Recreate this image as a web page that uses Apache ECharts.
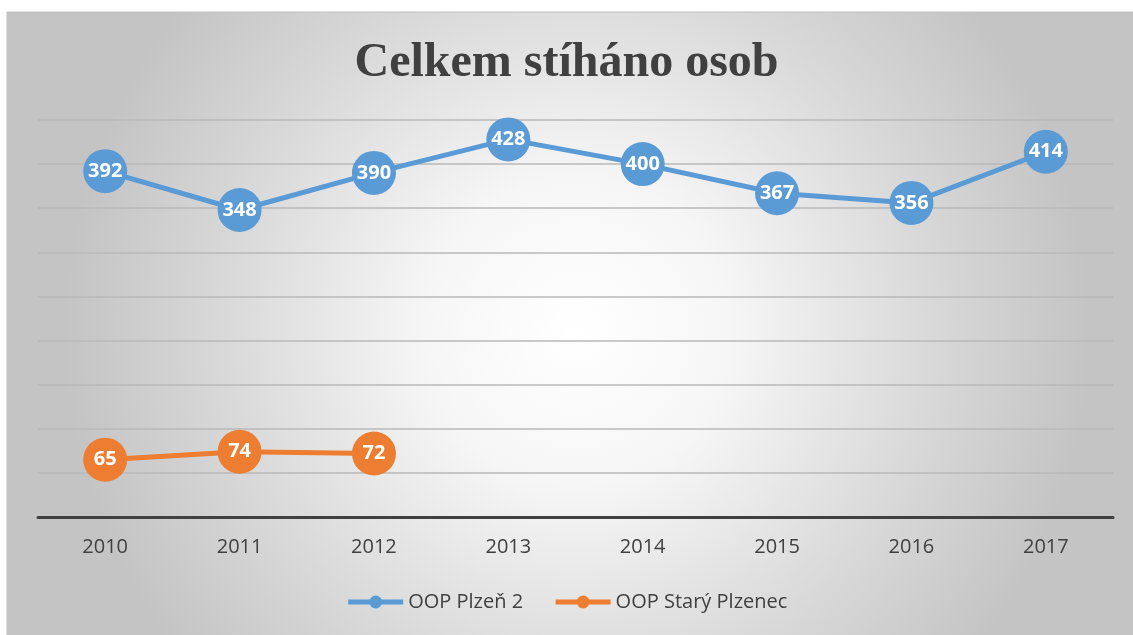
<!DOCTYPE html>
<html><head><meta charset="utf-8">
<script src="https://cdn.jsdelivr.net/npm/echarts@6/dist/echarts.min.js"></script>
<style>html,body{margin:0;padding:0;background:#fff}#c{width:1133px;height:635px}</style>
</head><body><div id="c"></div>
<script>
const categories = ['2010','2011','2012','2013','2014','2015','2016','2017'];
const plzen2 = [392,348,390,428,400,367,356,414];
const staryPlzenec = [65,74,72,null,null,null,null,null];
const seriesNames = ['OOP Plzeň 2','OOP Starý Plzenec'];
const titleText = 'Celkem stíháno osob';

const chart = echarts.init(document.getElementById('c'));
const lbl = {show:true, position:'inside', color:'#fff', fontWeight:'bold', fontSize:20, fontFamily:'Open Sans'};
chart.setOption({
  animation:false,
  backgroundColor:'#ffffff',
  graphic:[{
    type:'rect', z:-10, silent:true,
    shape:{x:7, y:12, width:1140, height:640},
    style:{
      fill:new echarts.graphic.RadialGradient(0.5,0.5,0.8,[
        {offset:0,color:'#ffffff'},{offset:0.3,color:'#f6f6f6'},{offset:0.7,color:'#d8d8d8'},{offset:1,color:'#c4c4c4'}]),
      stroke:'#c0c0c0', lineWidth:1
    }
  }],
  title:{text:titleText, left:'center', top:35,
    textStyle:{fontFamily:'Liberation Serif', fontWeight:'bold', fontSize:48, color:'#404040'}},
  legend:{bottom:18, left:'center', itemWidth:55, itemHeight:16, itemGap:30,
    lineStyle:{width:5},
    textStyle:{fontSize:20, color:'#404040', fontFamily:'Open Sans'}},
  grid:{left:38, right:20, top:120, bottom:118},
  xAxis:{type:'category', data:categories, boundaryGap:true,
    axisLine:{lineStyle:{color:'#404040', width:3}}, axisTick:{show:false},
    axisLabel:{fontSize:20, color:'#404040', margin:20, fontFamily:'Open Sans'}},
  yAxis:{type:'value', min:0, max:450, interval:50, axisLabel:{show:false},
    axisLine:{show:false}, axisTick:{show:false},
    splitLine:{lineStyle:{color:'#b8b8b8', width:1.5}}},
  series:[
    {name:seriesNames[0], type:'line', data:plzen2, symbol:'circle', symbolSize:44,
      lineStyle:{width:5, color:'#5b9bd5'}, itemStyle:{color:'#5b9bd5'}, label:lbl},
    {name:seriesNames[1], type:'line', data:staryPlzenec, symbol:'circle', symbolSize:44,
      lineStyle:{width:5, color:'#ed7d31'}, itemStyle:{color:'#ed7d31'}, label:lbl}
  ]
});
</script></body></html>
